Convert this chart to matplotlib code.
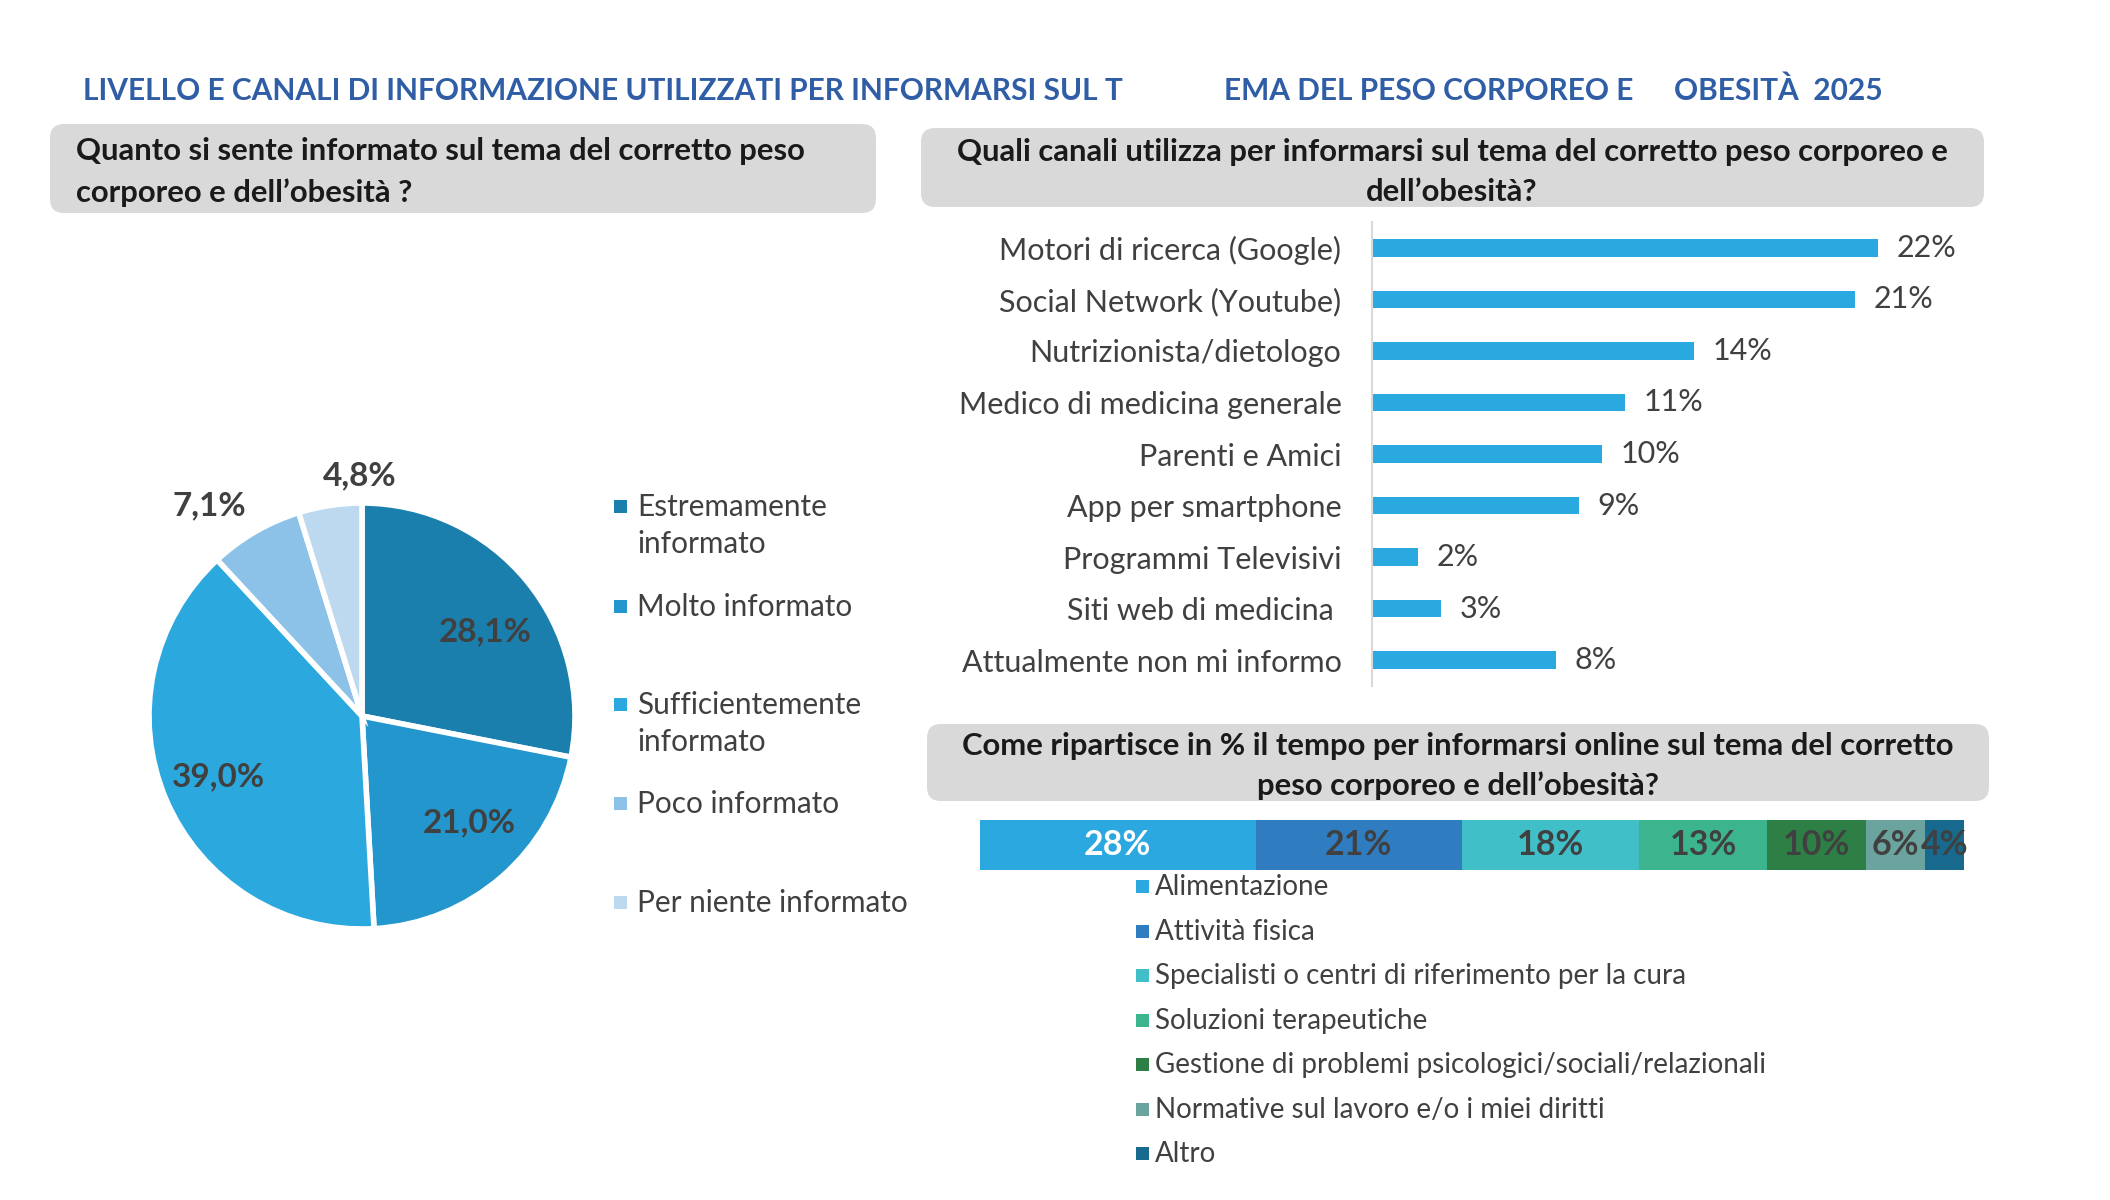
import matplotlib
matplotlib.use('Agg')
import matplotlib.pyplot as plt
from matplotlib.patches import FancyBboxPatch, Rectangle
import numpy as np

plt.rcParams['font.family'] = ['Lato', 'DejaVu Sans']

# 데이터
title_parts = ['LIVELLO E CANALI DI INFORMAZIONE UTILIZZATI PER INFORMARSI SUL T',
               'EMA DEL PESO CORPOREO E', 'OBESITÀ  2025']

pie_labels = ['Estremamente\ninformato', 'Molto informato', 'Sufficientemente\ninformato',
              'Poco informato', 'Per niente informato']
pie_values = [28.1, 21.0, 39.0, 7.1, 4.8]
pie_colors = ['#1B7FAD', '#2397CD', '#2BA9DE', '#8CC2E7', '#BCD9EF']

channels = ['Motori di ricerca (Google)', 'Social Network (Youtube)', 'Nutrizionista/dietologo',
            'Medico di medicina generale', 'Parenti e Amici', 'App per smartphone',
            'Programmi Televisivi', 'Siti web di medicina ', 'Attualmente non mi informo']
channel_values = [22, 21, 14, 11, 10, 9, 2, 3, 8]

time_labels = ['Alimentazione', 'Attività fisica', 'Specialisti o centri di riferimento per la cura',
               'Soluzioni terapeutiche', 'Gestione di problemi psicologici/sociali/relazionali',
               'Normative sul lavoro e/o i miei diritti', 'Altro']
time_values = [28, 21, 18, 13, 10, 6, 4]
time_colors = ['#2CA8E0', '#2F7DC0', '#41BFC8', '#3CB58F', '#2D7F45', '#6BA39F', '#176A8D']

W, H = 2110, 1200
TXT = '#404040'


def rect(x0, y0, x1, y1):
    # 픽셀 좌표(위에서 아래)를 figure 좌표로 변환
    return [x0 / W, 1 - y1 / H, (x1 - x0) / W, (y1 - y0) / H]


fig = plt.figure(figsize=(W / 100, H / 100), dpi=100)
bg = fig.add_axes([0, 0, 1, 1])
bg.set_xlim(0, W)
bg.set_ylim(H, 0)
bg.axis('off')

# 제목
for x, part in zip([83, 1224, 1674], title_parts):
    bg.text(x, 91, part, fontsize=21.5, fontweight='bold', color='#2F5DA6', va='center', ha='left')

# 회색 상자
for x0, y0, x1, y1 in [(50, 124, 876, 213), (921, 128, 1984, 207), (927, 724, 1989, 801)]:
    bg.add_patch(FancyBboxPatch((x0, y0), x1 - x0, y1 - y0,
                                boxstyle='round,pad=0,rounding_size=14',
                                fc='#D9D9D9', ec='none'))

BOX_FS = 22.3
bg.text(76, 172, 'Quanto si sente informato sul tema del corretto peso\ncorporeo e dell\u2019obesità ?',
        fontsize=BOX_FS, fontweight='bold', color='#1A1A1A', va='center', ha='left', linespacing=1.55)
bg.text(1452, 172, 'Quali canali utilizza per informarsi sul tema del corretto peso corporeo e\ndell\u2019obesità?',
        fontsize=BOX_FS, fontweight='bold', color='#1A1A1A', va='center', ha='center', linespacing=1.55)
bg.text(1458, 766, 'Come ripartisce in % il tempo per informarsi online sul tema del corretto\npeso corporeo e dell\u2019obesità?',
        fontsize=BOX_FS, fontweight='bold', color='#1A1A1A', va='center', ha='center', linespacing=1.5)

# 파이 차트
ax_pie = fig.add_axes(rect(149, 503, 575, 929))
wedges, _ = ax_pie.pie(pie_values, colors=pie_colors, startangle=90, counterclock=False,
                       radius=1, wedgeprops=dict(edgecolor='white', linewidth=4))
ax_pie.set_xlim(-1, 1)
ax_pie.set_ylim(-1, 1)
ax_pie.set_aspect('equal')
label_r = [0.70, 0.71, 0.73, 1.22, 1.13]
label_shift = [-5, 4, 0, 6, -8]
for w, v, r, s in zip(wedges, pie_values, label_r, label_shift):
    ang = np.deg2rad((w.theta1 + w.theta2) / 2 + s)
    ax_pie.text(r * np.cos(ang), r * np.sin(ang), f'{v:.1f}%'.replace('.', ','),
                ha='center', va='center', fontsize=24, fontweight='bold', color=TXT)

for y, lab, c in zip([507, 607, 705, 804, 903], pie_labels, pie_colors):
    bg.add_patch(Rectangle((614, y - 7), 13, 13, fc=c, ec='none'))
    bg.text(637, y - 14, lab, fontsize=21.4, color=TXT, va='top', ha='left', linespacing=1.37)

# 채널 막대 차트
ax_bar = fig.add_axes(rect(1372, 222, 2062, 686))
ypos = np.arange(len(channels))
ax_bar.barh(ypos, channel_values, height=0.34, color='#29A9E0')
ax_bar.set_xlim(0, 30)
ax_bar.set_ylim(len(channels) - 0.5, -0.5)
ax_bar.set_yticks(ypos)
ax_bar.set_yticklabels(channels, fontsize=22, color=TXT)
ax_bar.tick_params(axis='y', length=0, pad=22)
ax_bar.set_xticks([])
for sp in ['top', 'right', 'bottom']:
    ax_bar.spines[sp].set_visible(False)
ax_bar.spines['left'].set_color('#D9D9D9')
ax_bar.spines['left'].set_linewidth(1.5)
for yv, v in zip(ypos, channel_values):
    ax_bar.text(v + 0.8, yv, f'{v}%', va='center', ha='left', fontsize=22, color=TXT)

# 시간 배분 누적 막대
ax_st = fig.add_axes(rect(980, 820, 1964, 870))
left = 0
for v, c in zip(time_values, time_colors):
    ax_st.barh(0, v, left=left, height=1, color=c)
    ax_st.text(left + v / 2, 0, f'{v}%', ha='center', va='center', fontsize=24.5,
               fontweight='bold', color='white' if left == 0 else TXT)
    left += v
ax_st.set_xlim(0, 100)
ax_st.set_ylim(-0.5, 0.5)
ax_st.axis('off')

for i, (lab, c) in enumerate(zip(time_labels, time_colors)):
    y = 887 + i * 44.5
    bg.add_patch(Rectangle((1136, y - 7), 13, 13, fc=c, ec='none'))
    bg.text(1155, y, lab, fontsize=20, color=TXT, va='center', ha='left')

plt.savefig('out.png', dpi=100)
